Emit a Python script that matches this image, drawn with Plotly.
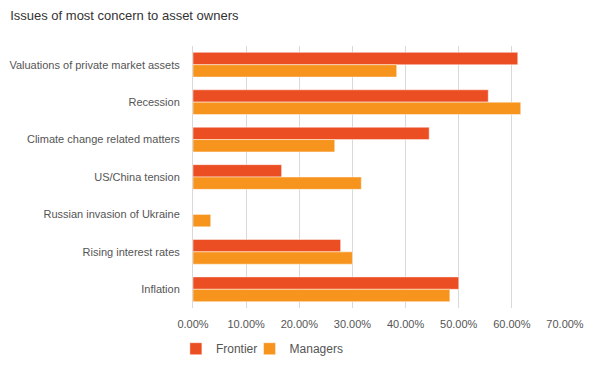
import plotly.graph_objects as go

categories = [
    "Valuations of private market assets",
    "Recession",
    "Climate change related matters",
    "US/China tension",
    "Russian invasion of Ukraine",
    "Rising interest rates",
    "Inflation",
]
frontier = [0.6111, 0.5556, 0.4444, 0.1667, 0.0, 0.2778, 0.5000]
managers = [0.3833, 0.6167, 0.2667, 0.3167, 0.0333, 0.3000, 0.4833]
tick_vals = [0, 0.1, 0.2, 0.3, 0.4, 0.5, 0.6, 0.7]

FONT = "Liberation Sans, Arial, sans-serif"

fig = go.Figure()
fig.add_trace(go.Bar(
    y=categories, x=frontier, name="Frontier", orientation="h", legend="legend",
    marker=dict(color="#EC4E24", line=dict(color="rgba(255,255,255,0.45)", width=1)),
))
fig.add_trace(go.Bar(
    y=categories, x=managers, name="Managers", orientation="h", legend="legend2",
    marker=dict(color="#F7941E", line=dict(color="rgba(255,255,255,0.45)", width=1)),
))

legend_common = dict(orientation="h", xanchor="left", y=-0.1, yanchor="top",
                     font=dict(family=FONT, size=12, color="#555555"),
                     itemwidth=30, bgcolor="rgba(0,0,0,0)")

fig.update_layout(
    width=599, height=366,
    paper_bgcolor="white", plot_bgcolor="white",
    margin=dict(l=193, r=34, t=46, b=58, autoexpand=False),
    barmode="group", bargap=0.34, bargroupgap=0,
    font=dict(family=FONT, size=11, color="#555555"),
    title=dict(text="Issues of most concern to asset owners", x=0.017, xanchor="left",
               y=0.959, yanchor="middle",
               font=dict(family=FONT, size=13, color="#333333")),
    showlegend=True,
    legend=dict(x=-0.046, **legend_common),
    legend2=dict(x=0.152, **legend_common),
)
fig.update_xaxes(
    range=[0, 0.7], tickvals=tick_vals, tickformat=".2%",
    showgrid=True, gridcolor="#D9D9D9", gridwidth=1,
    zeroline=False, showline=False, ticks="", automargin=False,
    ticklabelstandoff=8,
    tickfont=dict(family=FONT, size=11, color="#555555"),
)
fig.update_yaxes(
    autorange="reversed", showgrid=False, zeroline=False,
    showline=True, linecolor="#D9D9D9", linewidth=1,
    ticks="", ticklabelstandoff=10, automargin=False,
    tickfont=dict(family=FONT, size=11, color="#555555"),
)

fig.write_html("out.html", config={"displayModeBar": False},
               post_script="document.body.style.margin='0px';")
